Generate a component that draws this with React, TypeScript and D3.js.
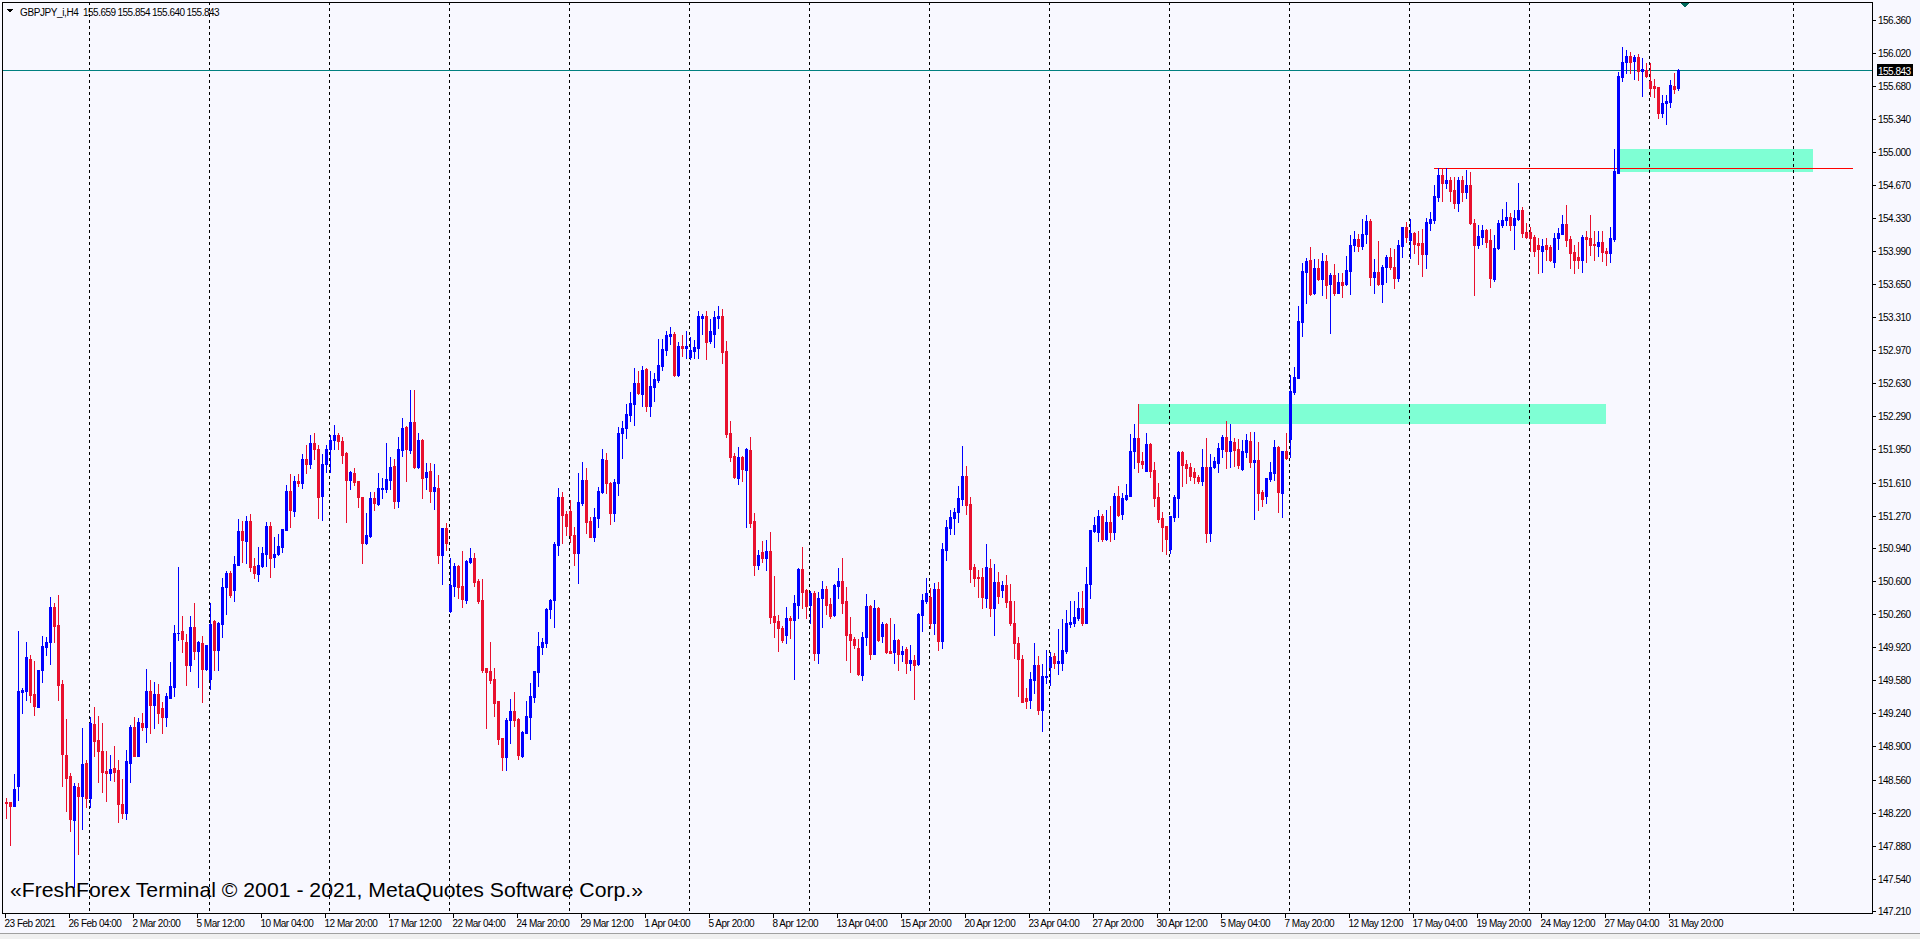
import React from "react";
import * as d3 from "d3";

// ---- OHLC data, GBPJPY H4, bar 0 = 23 Feb 2021 12:00 ----
const OPEN = [
148.33,148.33,148.29,148.49,149.46,149.47,149.80,149.44,149.31,149.69,
149.92,149.97,150.33,150.15,149.54,148.81,148.60,148.14,148.48,148.39,
148.73,148.37,149.13,148.97,148.85,148.65,148.63,148.68,148.66,148.31,
148.22,148.73,149.10,148.80,149.14,149.10,149.47,149.33,149.44,149.29,
149.20,149.40,149.51,150.06,150.09,149.97,149.74,150.13,149.88,149.96,
149.70,149.59,150.19,149.89,150.16,150.54,150.68,150.51,150.76,151.11,
151.01,151.22,150.75,150.67,150.75,150.88,151.16,150.85,150.88,150.95,
151.12,151.52,151.32,151.63,151.61,151.85,151.80,152.02,151.95,151.475,
151.80,151.95,152.05,152.10,152.036,151.910,151.636,151.704,151.626,151.465,
150.992,151.061,151.455,151.390,151.544,151.544,151.636,151.783,151.424,151.944,
152.184,151.944,152.235,151.773,152.047,151.670,151.728,151.526,151.557,150.866,
151.146,150.294,150.547,150.753,150.547,150.404,150.797,150.838,150.599,150.404,
149.709,149.675,149.592,149.367,148.990,148.795,149.171,149.264,149.182,148.805,
149.035,149.206,149.411,149.668,149.925,149.959,150.308,150.404,150.968,151.465,
151.287,151.318,151.071,150.883,151.403,151.636,151.218,151.054,151.249,151.516,
151.841,151.609,151.301,151.609,152.115,152.167,152.303,152.413,152.629,152.519,
152.772,152.396,152.595,152.663,152.810,152.971,153.118,153.135,152.714,153.012,
152.995,152.903,152.961,152.995,153.303,153.320,153.064,153.136,153.303,153.320,
152.961,152.122,151.883,151.653,151.876,151.739,151.944,151.215,150.763,150.900,
150.839,150.907,150.243,150.188,150.120,150.045,150.223,150.199,150.353,150.722,
150.507,150.353,150.479,149.863,150.421,150.517,150.363,150.250,150.551,150.603,
150.397,150.055,150.003,149.915,149.634,150.027,150.342,149.849,150.318,150.034,
150.158,149.880,149.867,149.993,149.849,149.901,149.754,149.788,149.747,150.250,
150.394,150.438,150.164,150.517,149.986,150.917,151.147,151.250,151.304,151.441,
151.677,151.390,150.739,150.644,150.637,150.428,150.736,150.318,150.585,150.507,
150.558,150.394,150.164,149.959,149.798,149.401,149.377,149.582,149.736,149.274,
149.610,149.712,149.829,149.760,149.760,149.880,150.157,150.164,150.216,150.318,
150.171,150.568,151.112,151.106,151.266,151.030,151.208,151.106,151.472,151.287,
151.441,151.472,151.934,152.071,151.831,151.732,152.002,151.739,151.458,151.243,
151.164,150.924,151.260,151.455,151.920,151.800,151.766,151.722,151.664,151.629,
151.766,151.095,151.766,151.814,151.954,152.074,151.934,152.030,151.954,151.749,
151.927,152.037,151.824,151.838,151.510,151.475,151.646,151.711,151.978,151.506,
151.934,152.057,152.543,152.680,153.262,153.775,153.895,153.560,153.810,153.700,
153.888,153.645,153.741,153.560,153.666,153.645,153.786,154.049,154.111,154.039,
154.162,154.299,153.724,153.768,153.649,153.827,153.923,153.827,153.707,154.039,
154.237,154.101,154.176,154.066,154.066,153.957,154.279,154.306,154.545,154.768,
154.689,154.717,154.614,154.477,154.717,154.597,154.665,154.279,154.049,154.135,
154.203,154.101,153.700,154.015,154.255,154.306,154.333,154.255,154.316,154.409,
154.186,154.186,154.128,154.049,153.991,154.049,154.025,153.878,154.118,154.162,
154.261,154.107,153.981,153.922,153.895,154.128,154.118,154.059,154.042,154.077,
153.991,153.964,154.111,154.792,155.778,155.925,155.990,155.942,155.976,155.839,
155.846,155.733,155.682,155.675,155.401,155.504,155.521,155.682,155.659];

const HIGH = [
148.37,148.33,148.62,150.09,149.50,149.97,149.84,149.78,149.69,150.03,
150.02,150.43,150.37,150.46,149.58,149.18,148.63,148.52,148.52,149.09,
148.76,149.20,149.30,149.21,149.14,148.85,148.81,148.90,148.76,148.57,
148.86,149.12,149.20,149.19,149.24,149.70,149.58,149.56,149.54,149.36,
149.45,149.77,150.15,150.74,150.24,150.05,150.24,150.37,149.98,150.03,
149.94,150.37,150.20,150.18,150.63,150.70,150.70,150.86,151.24,151.21,
151.27,151.29,150.83,150.95,150.95,151.20,151.20,151.05,151.08,151.13,
151.58,151.70,151.68,151.70,151.90,152.00,152.10,152.12,152.00,151.90,
152.00,152.10,152.20,152.12,152.081,151.927,151.732,151.763,151.626,151.465,
151.301,151.513,151.513,151.704,151.653,152.019,151.876,151.852,152.081,152.276,
152.190,152.560,152.560,152.115,152.057,151.807,151.807,151.800,151.687,151.146,
151.198,150.832,150.787,150.763,150.907,150.815,150.941,150.890,150.616,150.616,
149.709,149.976,149.702,149.367,148.990,149.195,149.387,149.462,149.195,149.058,
149.367,149.548,149.675,150.072,150.010,150.325,150.414,151.003,151.557,151.516,
151.318,151.431,151.157,151.704,151.817,151.763,151.259,151.345,151.567,151.954,
151.917,151.619,151.646,152.184,152.242,152.416,152.543,152.783,152.755,152.810,
152.783,152.755,152.731,153.080,153.080,153.166,153.211,153.152,153.057,153.125,
153.166,153.108,153.074,153.375,153.341,153.375,153.290,153.375,153.423,153.392,
153.064,152.242,151.910,151.972,151.883,151.961,152.074,151.294,150.917,151.010,
151.020,151.099,150.650,150.250,150.137,150.329,150.243,150.455,150.736,150.945,
150.517,150.496,150.496,150.490,150.603,150.548,150.421,150.565,150.729,150.832,
150.534,150.226,150.027,150.000,150.072,150.466,150.353,150.404,150.329,150.181,
150.164,150.216,150.158,150.000,149.932,149.925,149.942,149.839,150.267,150.466,
150.627,150.524,150.575,150.592,150.993,151.225,151.328,151.345,151.578,151.985,
151.780,151.465,150.770,150.712,150.736,150.979,150.822,150.770,150.695,150.599,
150.661,150.568,150.394,150.027,149.839,149.504,149.668,149.966,149.829,149.747,
149.890,149.873,149.863,150.106,150.209,150.301,150.394,150.394,150.483,150.496,
150.739,151.123,151.260,151.328,151.284,151.328,151.369,151.499,151.575,151.499,
151.595,152.105,152.208,152.417,151.920,152.115,152.019,151.818,151.609,151.311,
151.164,151.266,151.482,151.934,151.934,151.842,151.807,151.756,151.688,151.954,
152.064,151.900,151.876,152.019,152.098,152.242,152.208,152.064,152.057,152.047,
152.108,152.132,152.126,152.030,151.533,151.660,151.818,152.047,151.989,151.934,
152.115,152.714,152.800,153.423,153.861,153.919,154.025,153.906,153.906,153.964,
153.947,153.765,153.851,153.765,153.758,153.936,154.152,154.190,154.160,154.316,
154.357,154.313,153.902,154.090,153.844,153.946,154.015,154.005,154.101,154.237,
154.289,154.313,154.186,154.193,154.210,154.323,154.391,154.665,154.836,154.836,
154.836,154.751,154.751,154.751,154.758,154.819,154.802,154.316,154.255,154.255,
154.214,154.210,154.152,154.306,154.419,154.487,154.381,154.409,154.682,154.436,
154.272,154.237,154.152,154.118,154.111,154.118,154.049,154.176,154.220,154.357,
154.460,154.145,154.049,154.083,154.152,154.193,154.357,154.193,154.193,154.193,
154.015,154.231,155.035,155.829,156.079,156.052,156.028,156.000,156.011,155.966,
155.922,155.915,155.750,155.675,155.590,155.590,155.744,155.812,155.854];

const LOW = [
148.16,147.89,148.29,148.35,149.24,149.38,149.36,149.22,149.30,149.56,
149.84,149.75,149.97,149.38,148.49,148.24,148.03,147.46,147.80,148.05,
148.28,148.28,148.80,148.53,148.43,148.34,148.56,148.54,148.12,148.16,
148.15,148.53,148.80,148.80,149.07,148.95,149.04,149.09,149.14,149.04,
149.11,149.40,149.42,149.99,149.87,149.53,149.67,149.80,149.51,149.36,
149.69,149.49,149.69,149.69,150.02,150.26,150.43,150.39,150.76,150.79,
150.78,150.70,150.63,150.60,150.74,150.75,150.64,150.74,150.87,150.90,
151.12,151.15,151.27,151.57,151.55,151.71,151.76,151.85,151.25,151.23,
151.72,151.72,151.95,151.95,151.814,151.208,151.540,151.585,151.362,150.787,
150.979,151.054,151.328,151.379,151.455,151.509,151.544,151.345,151.362,151.886,
151.626,151.917,151.756,151.756,151.455,151.544,151.414,151.335,150.787,150.568,
150.917,150.284,150.445,150.428,150.335,150.376,150.787,150.547,150.369,149.668,
149.086,149.555,149.216,148.922,148.658,148.658,148.932,149.113,148.767,148.795,
149.035,148.976,149.360,149.524,149.846,149.925,150.215,150.130,150.866,150.992,
151.071,151.003,150.763,150.582,151.379,151.088,151.047,151.013,151.157,151.499,
151.499,151.184,151.215,151.482,151.865,152.064,152.242,152.201,152.519,152.396,
152.348,152.293,152.447,152.639,152.766,152.920,153.033,152.704,152.704,152.910,
152.886,152.879,152.886,152.886,153.136,152.879,153.047,152.999,153.201,152.834,
152.081,151.835,151.653,151.595,151.629,151.157,151.150,150.661,150.722,150.798,
150.712,150.171,150.028,149.880,149.976,149.959,150.010,149.593,150.216,150.325,
150.223,150.164,149.788,149.760,150.130,150.257,150.223,150.240,150.421,150.274,
149.788,149.668,149.915,149.634,149.583,149.942,149.798,149.846,149.986,149.976,
149.863,149.856,149.754,149.685,149.778,149.658,149.685,149.384,149.737,150.086,
150.377,150.113,150.055,149.891,149.915,150.815,151.082,151.082,151.202,151.380,
151.287,150.592,150.551,150.438,150.325,150.329,150.243,150.045,150.377,150.438,
150.329,150.147,149.812,149.422,149.360,149.291,149.291,149.445,149.233,149.062,
149.555,149.531,149.709,149.644,149.685,149.863,150.130,150.140,150.199,150.147,
150.171,150.421,151.106,151.010,151.010,151.020,151.010,151.030,151.266,151.236,
151.431,151.472,151.763,151.722,151.763,151.729,151.670,151.369,151.208,150.910,
150.876,150.883,151.219,151.260,151.578,151.609,151.636,151.609,151.602,151.585,
151.003,151.010,151.756,151.722,151.869,151.763,151.773,151.783,151.763,151.739,
151.876,151.766,151.236,151.328,151.373,151.397,151.629,151.636,151.311,151.260,
151.852,151.876,152.516,152.680,153.118,153.450,153.536,153.546,153.690,153.536,
153.508,153.149,153.536,153.553,153.519,153.639,153.546,153.991,153.990,154.008,
154.066,153.638,153.553,153.638,153.460,153.673,153.799,153.611,153.683,153.929,
154.077,153.912,153.970,153.851,153.731,153.816,154.203,154.272,154.501,154.501,
154.638,154.504,154.426,154.398,154.501,154.535,154.265,153.536,154.022,154.059,
154.032,153.621,153.679,154.008,154.231,154.255,154.203,154.008,154.306,154.128,
154.118,153.988,153.936,153.765,153.775,153.895,153.888,153.820,154.008,154.162,
154.039,153.816,153.758,153.816,153.775,153.871,153.946,153.895,153.936,153.888,
153.844,153.871,154.094,154.792,155.733,155.812,155.819,155.754,155.744,155.579,
155.778,155.583,155.572,155.357,155.360,155.292,155.470,155.607,155.640];

const CLOSE = [
148.32,148.29,148.46,149.47,149.48,149.82,149.43,149.32,149.69,149.93,
149.97,150.33,150.14,149.53,148.82,148.58,148.15,148.49,148.39,148.72,
148.37,149.14,148.96,148.85,148.64,148.63,148.67,148.64,148.31,148.22,
148.75,149.10,148.80,149.15,149.10,149.47,149.33,149.44,149.24,149.20,
149.42,149.52,150.07,150.07,150.00,149.74,150.13,149.88,149.97,149.70,
149.94,150.16,149.89,150.17,150.54,150.68,150.46,150.77,151.11,151.02,
151.21,150.74,150.68,150.76,150.89,151.16,150.84,150.88,150.96,151.13,
151.52,151.33,151.63,151.61,151.85,151.80,152.02,151.95,151.465,151.80,
151.95,152.05,152.10,152.04,151.893,151.636,151.722,151.619,151.458,150.992,
151.071,151.455,151.396,151.557,151.557,151.646,151.773,151.424,151.954,152.173,
151.951,152.235,151.773,152.047,151.660,151.722,151.526,151.567,150.866,151.146,
150.992,150.558,150.753,150.541,150.411,150.808,150.838,150.592,150.393,149.685,
149.668,149.582,149.349,148.976,148.795,149.171,149.264,149.171,148.812,149.045,
149.213,149.418,149.675,149.935,149.976,150.311,150.404,150.979,151.465,151.277,
151.164,151.071,150.883,151.414,151.636,151.208,151.054,151.253,151.523,151.852,
151.602,151.301,151.612,152.115,152.173,152.310,152.423,152.629,152.526,152.766,
152.396,152.601,152.673,152.817,152.981,153.125,153.135,152.714,153.012,152.995,
153.012,152.971,153.005,153.320,153.320,153.057,153.166,153.307,153.320,152.954,
152.109,151.876,151.664,151.869,151.749,151.951,151.191,150.763,150.866,150.839,
150.907,150.233,150.181,150.113,149.993,150.216,150.199,150.370,150.722,150.490,
150.346,150.479,149.863,150.421,150.517,150.353,150.243,150.558,150.603,150.377,
150.045,149.993,149.942,149.641,150.027,150.342,149.849,150.318,149.993,150.158,
149.873,149.863,149.993,149.849,149.880,149.754,149.788,149.737,150.260,150.404,
150.479,150.164,150.517,149.986,150.928,151.150,151.260,151.304,151.448,151.677,
151.380,150.722,150.633,150.627,150.431,150.739,150.318,150.585,150.445,150.558,
150.387,150.164,149.959,149.795,149.360,149.370,149.593,149.736,149.274,149.623,
149.627,149.822,149.760,149.777,149.890,150.171,150.181,150.233,150.318,150.171,
150.568,151.123,151.174,151.266,151.030,151.208,151.106,151.472,151.277,151.455,
151.482,151.934,152.071,151.824,151.800,152.002,151.732,151.455,151.236,151.157,
151.030,151.266,151.465,151.920,151.790,151.763,151.681,151.664,151.629,151.766,
151.095,151.766,151.831,151.961,152.074,151.934,152.037,151.944,151.790,151.934,
152.047,151.824,151.838,151.506,151.441,151.653,151.715,151.978,151.516,151.934,
151.859,152.550,152.690,153.269,153.782,153.888,153.546,153.810,153.697,153.888,
153.639,153.741,153.560,153.666,153.639,153.793,154.049,154.111,154.042,154.162,
154.299,153.724,153.768,153.649,153.827,153.923,153.827,153.714,154.049,154.237,
154.135,154.176,154.059,154.049,153.957,154.289,154.316,154.556,154.768,154.689,
154.717,154.607,154.484,154.717,154.597,154.665,154.272,154.049,154.142,154.203,
154.083,153.707,154.015,154.272,154.306,154.333,154.255,154.323,154.409,154.176,
154.128,154.118,153.991,154.008,154.042,154.008,153.895,154.118,154.169,154.261,
154.101,153.970,153.895,153.895,154.128,154.111,154.049,154.049,154.077,153.981,
153.970,154.118,154.809,155.785,155.925,155.990,155.925,155.976,155.839,155.853,
155.785,155.665,155.665,155.401,155.511,155.528,155.692,155.651,155.843];

// ---- axis labels ----
const PRICE_TICKS = [
"156.360","156.020","155.680","155.340","155.000","154.670","154.330","153.990",
"153.650","153.310","152.970","152.630","152.290","151.950","151.610","151.270",
"150.940","150.600","150.260","149.920","149.580","149.240","148.900","148.560",
"148.220","147.880","147.540","147.210"];

const TIME_LABELS = [
"23 Feb 2021","26 Feb 04:00","2 Mar 20:00","5 Mar 12:00","10 Mar 04:00","12 Mar 20:00",
"17 Mar 12:00","22 Mar 04:00","24 Mar 20:00","29 Mar 12:00","1 Apr 04:00","5 Apr 20:00",
"8 Apr 12:00","13 Apr 04:00","15 Apr 20:00","20 Apr 12:00","23 Apr 04:00","27 Apr 20:00",
"30 Apr 12:00","5 May 04:00","7 May 20:00","12 May 12:00","17 May 04:00","19 May 20:00",
"24 May 12:00","27 May 04:00","31 May 20:00"];
const TIME_LABEL_STEP = 16; // bars between time labels

// weekly grid (bar index of each Monday 00:00), last one is in the future area
const GRID_BARS = [21,51,81,111,141,171,201,231,261,291,321,351,381,411,447];

// ---- objects drawn on the chart ----
const ZONES = [
  { from: 283, to: 400, top: 152.417, bottom: 152.211 },
  { from: 403.2, to: 451.8, top: 155.035, bottom: 154.80 },
];
const RESIST_LINE = { from: 357.2, to: 461.8, price: 154.836 };
const LAST = { open: 155.659, high: 155.854, low: 155.640, close: 155.843 };
const SYMBOL = "GBPJPY_i,H4";
const WATERMARK = "«FreshForex Terminal © 2001 - 2021, MetaQuotes Software Corp.»";

const W = 1920, H = 939;
const PLOT_L = 2, PLOT_R = 1872, PLOT_T = 2, PLOT_B = 913;
const BULL = "#0000FF", BEAR = "#E8102E";
const BG = "#F8F8FF";
const FONT = "'Liberation Sans', Arial, sans-serif";

export default function App() {
  const n = CLOSE.length;
  const x = d3.scaleLinear().domain([0, 1]).range([5.5, 9.5]);
  const y = d3.scaleLinear().domain([147.21, 156.36]).range([911, 20]);

  const candles = d3.range(n).map((i) => {
    const o = OPEN[i], c = CLOSE[i], h = HIGH[i], l = LOW[i];
    const bull = c >= o;
    const col = bull ? BULL : BEAR;
    const cx = Math.round(x(i)) - 0.5;
    const yt = Math.round(y(Math.max(o, c)));
    const yb = Math.round(y(Math.min(o, c)));
    const yh = Math.round(y(h));
    const yl = Math.round(y(l));
    return (
      <g key={i}>
        <rect x={cx} y={yh} width={1} height={Math.max(1, yl - yh + 1)} fill={col} />
        <rect x={cx - 1} y={yt} width={3} height={Math.max(1, yb - yt + 1)} fill={col} />
      </g>
    );
  });

  const priceTicks = PRICE_TICKS.map((t) => {
    const yy = Math.round(y(+t));
    return (
      <g key={t}>
        <line x1={PLOT_R} x2={PLOT_R + 4} y1={yy + 0.5} y2={yy + 0.5} stroke="#000" />
        <text x={PLOT_R + 6} y={yy + 4} fontSize={10} fontFamily={FONT} letterSpacing={-0.5} fill="#000">{t}</text>
      </g>
    );
  });

  const timeTicks = TIME_LABELS.map((t, k) => {
    const xx = Math.round(x(k * TIME_LABEL_STEP)) - 0.5;
    return (
      <g key={t}>
        <line x1={xx} x2={xx} y1={PLOT_B} y2={PLOT_B + 5} stroke="#000" />
        <text x={xx - 1} y={PLOT_B + 14} fontSize={10} fontFamily={FONT} letterSpacing={-0.5} fill="#000">{t}</text>
      </g>
    );
  });

  const grid = GRID_BARS.map((g) => {
    const xx = Math.round(x(g)) - 0.5;
    return <line key={g} x1={xx} x2={xx} y1={PLOT_T} y2={PLOT_B} stroke="#000" strokeDasharray="3,3" />;
  });

  const zones = ZONES.map((z, k) => (
    <rect key={k} x={x(z.from)} y={y(z.top)} width={x(z.to) - x(z.from)} height={y(z.bottom) - y(z.top)} fill="#7FFFD4" />
  ));

  const lastY = Math.round(y(LAST.close)) + 0.5;
  const resY = Math.round(y(RESIST_LINE.price)) + 0.5;
  const ohlc = [LAST.open, LAST.high, LAST.low, LAST.close];

  return (
    <svg width={W} height={H} style={{ position: "fixed", left: 0, top: 0 }} shapeRendering="crispEdges">
      <rect x={0} y={0} width={W} height={H} fill={BG} />
      {zones}
      {grid}
      <line x1={x(RESIST_LINE.from)} x2={x(RESIST_LINE.to)} y1={resY} y2={resY} stroke="#FF0000" />
      <line x1={PLOT_L} x2={PLOT_R} y1={lastY} y2={lastY} stroke="#008080" />
      {candles}
      <rect x={PLOT_L + 0.5} y={PLOT_T + 0.5} width={PLOT_R - PLOT_L} height={PLOT_B - PLOT_T} fill="none" stroke="#000" />
      {priceTicks}
      <rect x={PLOT_R + 5} y={lastY - 6.5} width={36} height={12} fill="#000" />
      <text x={PLOT_R + 6} y={lastY + 4} fontSize={10} fontFamily={FONT} letterSpacing={-0.5} fill="#fff">{LAST.close.toFixed(3)}</text>
      {timeTicks}
      <path d="M7,9 L13,9 L10,13 Z" fill="#000" />
      <text x={20} y={16} fontSize={10} fontFamily={FONT} letterSpacing={-0.4} fill="#000">{SYMBOL}</text>
      {ohlc.map((v, k) => (
        <text key={k} x={83 + k * 34.5} y={16} fontSize={10} fontFamily={FONT} letterSpacing={-0.5} fill="#000">{v.toFixed(3)}</text>
      ))}
      <path d="M1681,3 L1689,3 L1685,8 Z" fill="#00695C" />
      <text x={10} y={897} fontSize={21} textLength={633} lengthAdjust="spacingAndGlyphs" fontFamily={FONT} fill="#000">{WATERMARK}</text>
      <rect x={0} y={PLOT_B + 20} width={W} height={H - PLOT_B - 20} fill="#F0F0F0" />
      <line x1={0} x2={W} y1={PLOT_B + 20.5} y2={PLOT_B + 20.5} stroke="#A0A0A0" />
    </svg>
  );
}
